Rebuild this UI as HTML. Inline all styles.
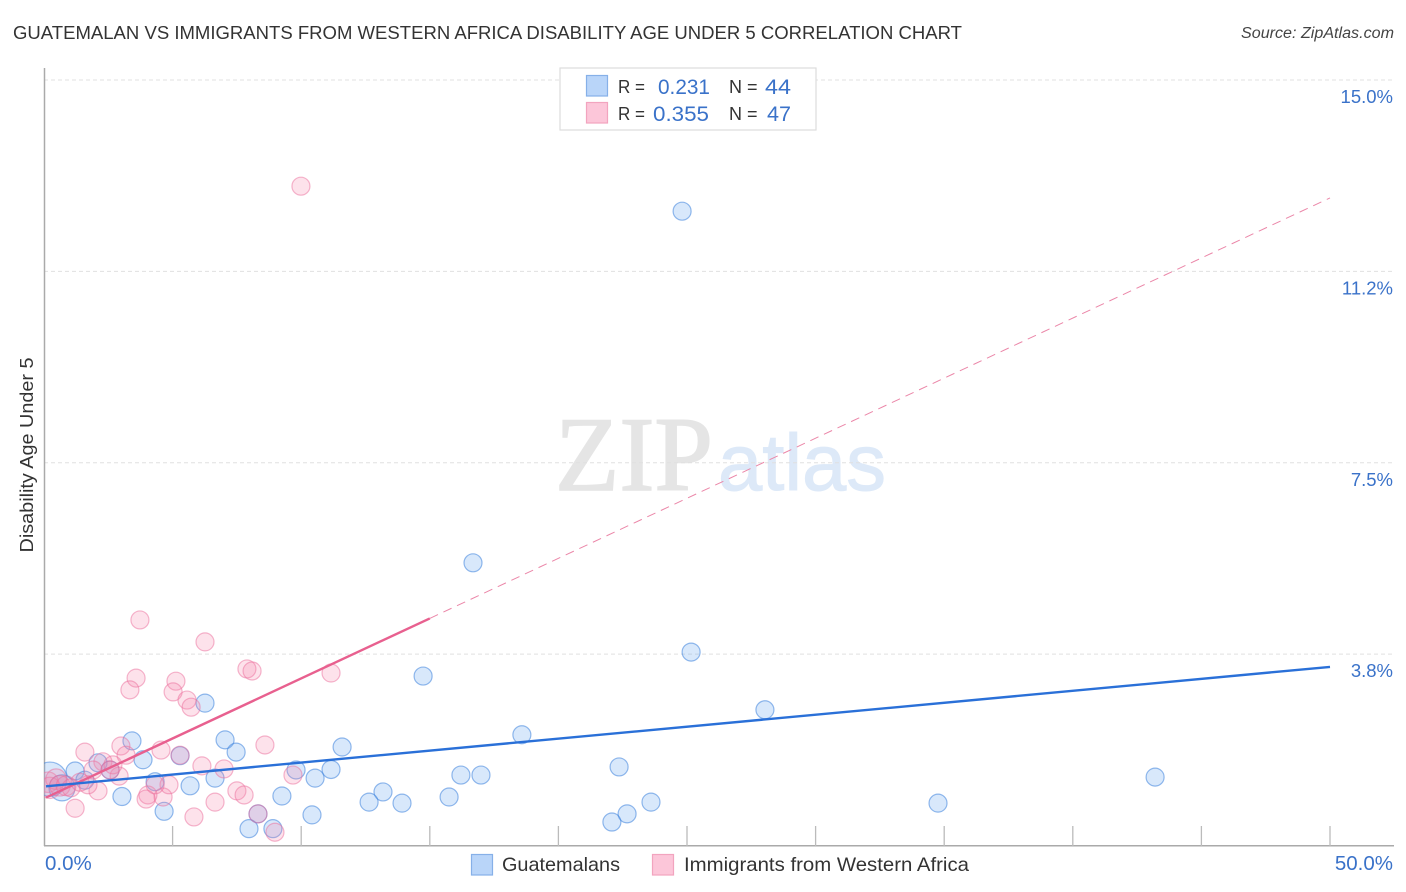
<!DOCTYPE html>
<html lang="en">
<head>
<meta charset="utf-8">
<title>Guatemalan vs Immigrants from Western Africa Disability Age Under 5 Correlation Chart</title>
<style>
html,body{margin:0;padding:0;background:#fff;width:1406px;height:892px;overflow:hidden}
svg{display:block;font-family:"Liberation Sans",sans-serif}
</style>
</head>
<body>
<svg id="chart" width="1406" height="892" viewBox="0 0 1406 892" xmlns="http://www.w3.org/2000/svg">
  <defs><clipPath id="plot-clip"><rect x="44" y="60" width="1350" height="786"/></clipPath></defs>
  <text x="13" y="39" font-size="18.5" fill="#333" textLength="949" lengthAdjust="spacingAndGlyphs">GUATEMALAN VS IMMIGRANTS FROM WESTERN AFRICA DISABILITY AGE UNDER 5 CORRELATION CHART</text>
  <text x="1241" y="38" font-size="15.5" font-style="italic" fill="#444" textLength="153" lengthAdjust="spacingAndGlyphs">Source: ZipAtlas.com</text>
  <g>
    <text x="555" y="490" font-family="'Liberation Serif',serif" font-size="106" fill="#e5e5e5" stroke="#e5e5e5" stroke-width="1.6" textLength="158" lengthAdjust="spacingAndGlyphs">ZIP</text>
    <text x="718" y="490" font-family="'Liberation Sans',sans-serif" font-size="80" fill="#dde9f8" stroke="#dde9f8" stroke-width="1" textLength="168" lengthAdjust="spacingAndGlyphs">atlas</text>
  </g>
  <g id="grid"></g>
  <g id="axes"></g>
  <g id="marks" clip-path="url(#plot-clip)"></g>
  <g id="trends"></g>
  <text transform="translate(33,455) rotate(-90)" font-size="18" fill="#333" text-anchor="middle" textLength="195" lengthAdjust="spacingAndGlyphs">Disability Age Under 5</text>
  <g>
    <rect x="560" y="68" width="256" height="62" fill="#fff" stroke="#ddd" stroke-width="1.2"/>
    <rect x="586.5" y="75.5" width="21" height="20.5" fill="#b9d5f9" stroke="#86b0e8" stroke-width="1.2"/>
    <rect x="586.5" y="102.5" width="21" height="20.5" fill="#fcc6d9" stroke="#f2a4bf" stroke-width="1.2"/>
    <text x="618" y="93" font-size="18" fill="#333" textLength="27" lengthAdjust="spacingAndGlyphs">R =</text>
    <text x="658" y="94" font-size="21" fill="#3a72c9" textLength="52" lengthAdjust="spacingAndGlyphs">0.231</text>
    <text x="729" y="93" font-size="18" fill="#333">N =</text>
    <text x="765" y="94" font-size="21" fill="#3a72c9" textLength="26" lengthAdjust="spacingAndGlyphs">44</text>
    <text x="618" y="120" font-size="18" fill="#333" textLength="27" lengthAdjust="spacingAndGlyphs">R =</text>
    <text x="653" y="121" font-size="21" fill="#3a72c9" textLength="56" lengthAdjust="spacingAndGlyphs">0.355</text>
    <text x="729" y="120" font-size="18" fill="#333">N =</text>
    <text x="767" y="121" font-size="21" fill="#3a72c9" textLength="24" lengthAdjust="spacingAndGlyphs">47</text>
  </g>
  <g>
    <rect x="471.5" y="854.5" width="21" height="20.5" fill="#b9d5f9" stroke="#86b0e8" stroke-width="1.2"/>
    <text x="502" y="871" font-size="19.5" fill="#333" textLength="118" lengthAdjust="spacingAndGlyphs">Guatemalans</text>
    <rect x="652.5" y="854.5" width="21" height="20.5" fill="#fcc6d9" stroke="#f2a4bf" stroke-width="1.2"/>
    <text x="684" y="871" font-size="19.5" fill="#333" textLength="285" lengthAdjust="spacingAndGlyphs">Immigrants from Western Africa</text>
  </g>
</svg>
<script>
const yTickValues = [3.75, 7.5, 11.25, 15];
const yTickLabels = ['3.8%', '7.5%', '11.2%', '15.0%'];
const xTickValues = [5, 10, 15, 20, 25, 30, 35, 40, 45, 50];
const xEndLabels = ['0.0%', '50.0%'];

const blueX = [24.81,16.68,25.16,14.74,6.26,28.03,18.58,3.42,7.04,11.59,7.47,3.85,5.29,2.10,1.21,11.16,2.57,9.80,10.54,6.65,4.32,5.68,16.21,16.99,22.36,43.20,13.18,3.03,9.25,15.75,12.64,13.92,23.60,34.76,4.67,10.42,22.67,8.32,22.08,7.97,8.90,0.23,0.70,1.59];
const blueY = [12.43,5.54,3.79,3.32,2.79,2.66,2.17,2.05,2.07,1.93,1.83,1.68,1.76,1.62,1.46,1.49,1.48,1.48,1.32,1.32,1.25,1.17,1.38,1.38,1.54,1.34,1.05,0.96,0.97,0.95,0.85,0.83,0.85,0.83,0.67,0.60,0.62,0.62,0.46,0.33,0.33,1.30,1.13,1.28];
const blueWeight = [1,1,1,1,1,1,1,1,1,1,1,1,1,1,1,1,1,1,1,1,1,1,1,1,1,1,1,1,1,1,1,1,1,1,1,1,1,1,1,1,1,3.6,2.1,1];

const pinkX = [9.99,3.73,6.26,3.58,3.34,5.13,5.02,5.56,5.72,7.89,8.09,11.16,8.59,1.59,2.99,3.19,4.55,6.14,7.00,5.29,9.68,7.50,7.78,6.65,5.83,4.63,4.04,3.97,4.86,4.32,2.10,1.21,8.32,8.98,2.92,2.29,2.68,1.91,2.57,1.71,0.16,0.23,0.47,0.62,0.86,1.05,1.40];
const pinkY = [12.92,4.42,3.99,3.28,3.05,3.22,3.01,2.85,2.71,3.46,3.42,3.38,1.97,1.83,1.95,1.77,1.87,1.56,1.50,1.77,1.38,1.07,0.99,0.85,0.56,0.95,0.99,0.91,1.19,1.19,1.07,0.73,0.62,0.26,1.36,1.64,1.58,1.48,1.48,1.19,1.24,1.13,1.30,1.17,1.17,1.13,1.24];
const pinkWeight = [1,1,1,1,1,1,1,1,1,1,1,1,1,1,1,1,1,1,1,1,1,1,1,1,1,1,1,1,1,1,1,1,1,1,1,1,1,1,1,1,1.3,1.4,1.3,1.3,1.2,1,1];

const blueTrendX = [0, 50];
const blueTrendY = [1.16, 3.50];
const pinkTrendX = [0, 15, 50];
const pinkTrendY = [0.92, 4.45, 12.69];

const xScale = function (v) { return 44 + v * 25.72; };
const yScale = function (v) { return 845.5 - v * 51.03; };
const NS = 'http://www.w3.org/2000/svg';
const grid = document.getElementById('grid');
const axes = document.getElementById('axes');
const marks = document.getElementById('marks');
const trends = document.getElementById('trends');

function make(tag, attrs, parent) {
  const el = document.createElementNS(NS, tag);
  for (const k in attrs) el.setAttribute(k, attrs[k]);
  parent.appendChild(el);
  return el;
}

yTickValues.forEach(function (v, i) {
  const line = make('line', {x1: 44, x2: 1394, y1: yScale(v), y2: yScale(v), stroke: '#e0e0e0', 'stroke-width': 1, 'stroke-dasharray': '4 3'}, grid);
  
  
  const label = make('text', {x: 1393, y: yScale(v) + 23, 'font-size': 18.5, fill: '#3a72c9', 'text-anchor': 'end'}, axes);
  label.textContent = yTickLabels[i];
  
  
});

const yAxisLine = make('line', {x1: 44.5, x2: 44.5, y1: 68, y2: 846, stroke: '#aaa', 'stroke-width': 1.5}, axes);


const xAxisLine = make('line', {x1: 44, x2: 1394, y1: 845.7, y2: 845.7, stroke: '#aaa', 'stroke-width': 1.5}, axes);



xTickValues.forEach(function (v) {
  const tick = make('line', {x1: xScale(v), x2: xScale(v), y1: 826, y2: 846, stroke: '#bbb', 'stroke-width': 1.3}, axes);
  
  
});

const xLabelLeft = make('text', {x: 45, y: 870, 'font-size': 20.5, fill: '#3a72c9'}, axes);
xLabelLeft.textContent = xEndLabels[0];


const xLabelRight = make('text', {x: 1393, y: 870, 'font-size': 20.5, fill: '#3a72c9', 'text-anchor': 'end'}, axes);
xLabelRight.textContent = xEndLabels[1];



blueX.forEach(function (v, i) {
  const c = make('circle', {cx: xScale(v), cy: yScale(blueY[i]), r: 9 * Math.sqrt(blueWeight[i]), fill: 'rgba(105,165,240,0.26)', stroke: 'rgba(60,130,220,0.55)', 'stroke-width': 1.2}, marks);
  
  
});
pinkX.forEach(function (v, i) {
  const c = make('circle', {cx: xScale(v), cy: yScale(pinkY[i]), r: 9 * Math.sqrt(pinkWeight[i]), fill: 'rgba(245,135,170,0.24)', stroke: 'rgba(235,110,155,0.5)', 'stroke-width': 1.2}, marks);
  
  
});

const pinkSolid = make('line', {x1: xScale(pinkTrendX[0]) + 2, y1: yScale(pinkTrendY[0]) - 1, x2: xScale(pinkTrendX[1]), y2: yScale(pinkTrendY[1]), stroke: '#e8608f', 'stroke-width': 2.4}, trends);


const pinkDash = make('line', {x1: xScale(pinkTrendX[1]), y1: yScale(pinkTrendY[1]), x2: xScale(pinkTrendX[2]), y2: yScale(pinkTrendY[2]), stroke: '#eb86a8', 'stroke-width': 1, 'stroke-dasharray': '9 6'}, trends);


const blueLine = make('line', {x1: xScale(blueTrendX[0]) + 2, y1: yScale(blueTrendY[0]), x2: xScale(blueTrendX[1]), y2: yScale(blueTrendY[1]), stroke: '#2a70d8', 'stroke-width': 2.4}, trends);


</script>
</body>
</html>
